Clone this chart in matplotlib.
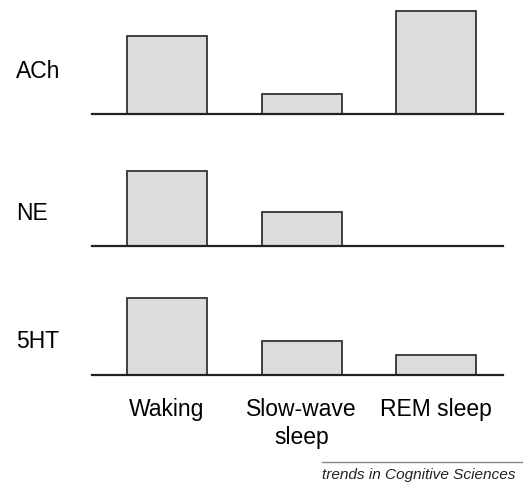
import matplotlib.pyplot as plt

plt.rcParams['font.family'] = ['Liberation Sans', 'DejaVu Sans']

# данные: высоты столбиков (условные единицы)
states = ["Waking", "Slow-wave\nsleep", "REM sleep"]
transmitters = ["ACh", "NE", "5HT"]
ach = [78, 20, 103]
ne = [75, 34, 0]
ht5 = [77, 34, 20]
levels = [ach, ne, ht5]

W, H = 523, 485
fig = plt.figure(figsize=(W / 100, H / 100), dpi=100)

# нижняя линия каждого ряда (пиксели сверху) и вертикальная позиция подписи
baselines = [115, 247, 376]
label_y = [71, 213, 341]
ax_h = 110
x_left, x_right = 92, 503

for i in range(3):
    b = baselines[i]
    ax = fig.add_axes([x_left / W, (H - b) / H, (x_right - x_left) / W, ax_h / H])
    ax.bar(range(3), levels[i], width=0.595, color="#dcdcdc",
           edgecolor="#333333", linewidth=1.3, zorder=2)
    ax.set_xlim(-0.558, 2.498)
    ax.set_ylim(0, ax_h)
    for s in ["top", "left", "right"]:
        ax.spines[s].set_visible(False)
    ax.spines["bottom"].set_linewidth(1.6)
    ax.spines["bottom"].set_color("#222222")
    ax.spines["bottom"].set_zorder(3)
    ax.set_yticks([])
    if i == 2:
        ax.set_xticks(range(3))
        ax.set_xticklabels(states, fontsize=16.5, linespacing=1.25)
        ax.tick_params(axis="x", length=0, pad=16)
    else:
        ax.set_xticks([])
    fig.text(16 / W, (H - label_y[i]) / H, transmitters[i], fontsize=16.5,
             ha="left", va="center")

# подпись журнала внизу
fig.add_artist(plt.Line2D([322 / W, 1.0], [(H - 463) / H] * 2,
                          color="#888888", linewidth=1.0))
fig.text(322 / W, (H - 475) / H, "trends in Cognitive Sciences", fontsize=11.1,
         style="italic", color="#222222", ha="left", va="center")

fig.savefig("out.png", dpi=100)
